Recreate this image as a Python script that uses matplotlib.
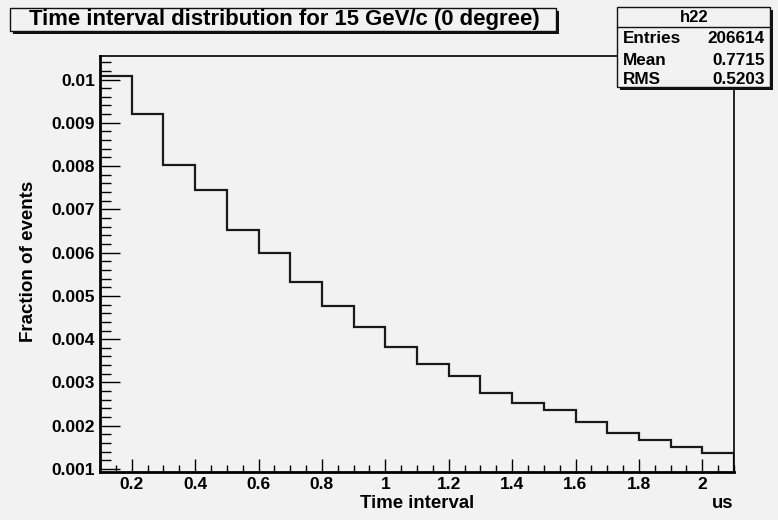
import numpy as np
import matplotlib.pyplot as plt
from matplotlib.patches import Rectangle
from matplotlib.ticker import MultipleLocator

plt.rcParams['font.family'] = ['Liberation Sans', 'DejaVu Sans']
plt.rcParams['font.weight'] = 'bold'

# histogram h22: bin edges (us) and fraction of events per bin
edges = [0.1, 0.2, 0.3, 0.4, 0.5, 0.6, 0.7, 0.8, 0.9, 1.0, 1.1,
         1.2, 1.3, 1.4, 1.5, 1.6, 1.7, 1.8, 1.9, 2.0, 2.1]
fractions = [0.01009, 0.00920, 0.00803, 0.00744, 0.00652, 0.00600, 0.00533,
             0.00476, 0.00428, 0.00381, 0.00343, 0.00316, 0.00276, 0.00253,
             0.00236, 0.00209, 0.00184, 0.00168, 0.00152, 0.00137]
yticks = [0.001, 0.002, 0.003, 0.004, 0.005, 0.006, 0.007, 0.008, 0.009, 0.01]
yticklabels = ['0.001', '0.002', '0.003', '0.004', '0.005', '0.006', '0.007', '0.008', '0.009', '0.01']
xticks = [0.2, 0.4, 0.6, 0.8, 1.0, 1.2, 1.4, 1.6, 1.8, 2.0]
xticklabels = ['0.2', '0.4', '0.6', '0.8', '1', '1.2', '1.4', '1.6', '1.8', '2']
stat_names = ['Entries', 'Mean', 'RMS']
stat_values = ['206614', '0.7715', '0.5203']

W, H = 778, 520
bg = '#f2f2f2'
fig = plt.figure(figsize=(W / 100, H / 100), dpi=100, facecolor=bg)

# pixel (from top-left) -> figure fraction
def fx(x):
    return x / W

def fy(y):
    return 1 - y / H

ax = fig.add_axes([fx(100), fy(471.7), (734 - 100) / W, (471.7 - 56) / H])
ax.set_facecolor(bg)

ax.stairs(fractions, edges, baseline=None, color='#1a1a1a', lw=1.6)
# drop line at the right edge like ROOT
ax.plot([edges[-1], edges[-1]], [0.000938, fractions[-1]], color='#1a1a1a', lw=1.6)

ax.set_xlim(0.1, 2.1)
ax.set_ylim(0.000938, 0.010543)

ax.set_xticks(xticks)
ax.set_xticklabels(xticklabels)
ax.set_yticks(yticks)
ax.set_yticklabels(yticklabels)
ax.xaxis.set_minor_locator(MultipleLocator(0.05))
ax.yaxis.set_minor_locator(MultipleLocator(0.0002))

ax.tick_params(axis='y', which='major', direction='in', length=14.4, width=1, labelsize=12.5, pad=3.5)
ax.tick_params(axis='y', which='minor', direction='in', length=8, width=1)
ax.tick_params(axis='x', which='major', direction='in', length=9.4, width=1, labelsize=12.5, pad=4)
ax.tick_params(axis='x', which='minor', direction='in', length=5, width=1)

for s in ['left', 'bottom']:
    ax.spines[s].set_linewidth(2)
for s in ['top', 'right']:
    ax.spines[s].set_linewidth(1.2)

fig.text(fx(416.7), fy(504), 'Time interval', ha='center', va='center', fontsize=13.4)
fig.text(fx(733), fy(504), 'us', ha='right', va='center', fontsize=13.4)
fig.text(fx(28.3), fy(261), 'Fraction of events', ha='center', va='center', rotation=90, fontsize=13.5)

# ROOT style boxes with shadow
def box(x0, y0, x1, y1):
    fig.patches.append(Rectangle((fx(x0 + 3), fy(y1 + 3)), fx(x1 - x0), (y1 - y0) / H,
                                 transform=fig.transFigure, facecolor='#111111', edgecolor='none'))
    fig.patches.append(Rectangle((fx(x0), fy(y1)), fx(x1 - x0), (y1 - y0) / H,
                                 transform=fig.transFigure, facecolor=bg, edgecolor='#111111', lw=1))

box(10, 8, 556, 31)
fig.text(fx(284), fy(20), 'Time interval distribution for 15 GeV/c (0 degree)',
         ha='center', va='center', fontsize=15.9)

box(617, 7, 770, 87)
fig.lines.append(plt.Line2D([fx(617), fx(770)], [fy(27), fy(27)], transform=fig.transFigure,
                            color='#111111', lw=1))
fig.text(fx(694), fy(17), 'h22', ha='center', va='center', fontsize=12)
for i, (n, v) in enumerate(zip(stat_names, stat_values)):
    y = [38.5, 60.5, 80][i]
    fig.text(fx(623), fy(y), n, ha='left', va='center', fontsize=12.3)
    fig.text(fx(765), fy(y), v, ha='right', va='center', fontsize=12.3)

fig.savefig('out.png', dpi=100, facecolor=bg)
